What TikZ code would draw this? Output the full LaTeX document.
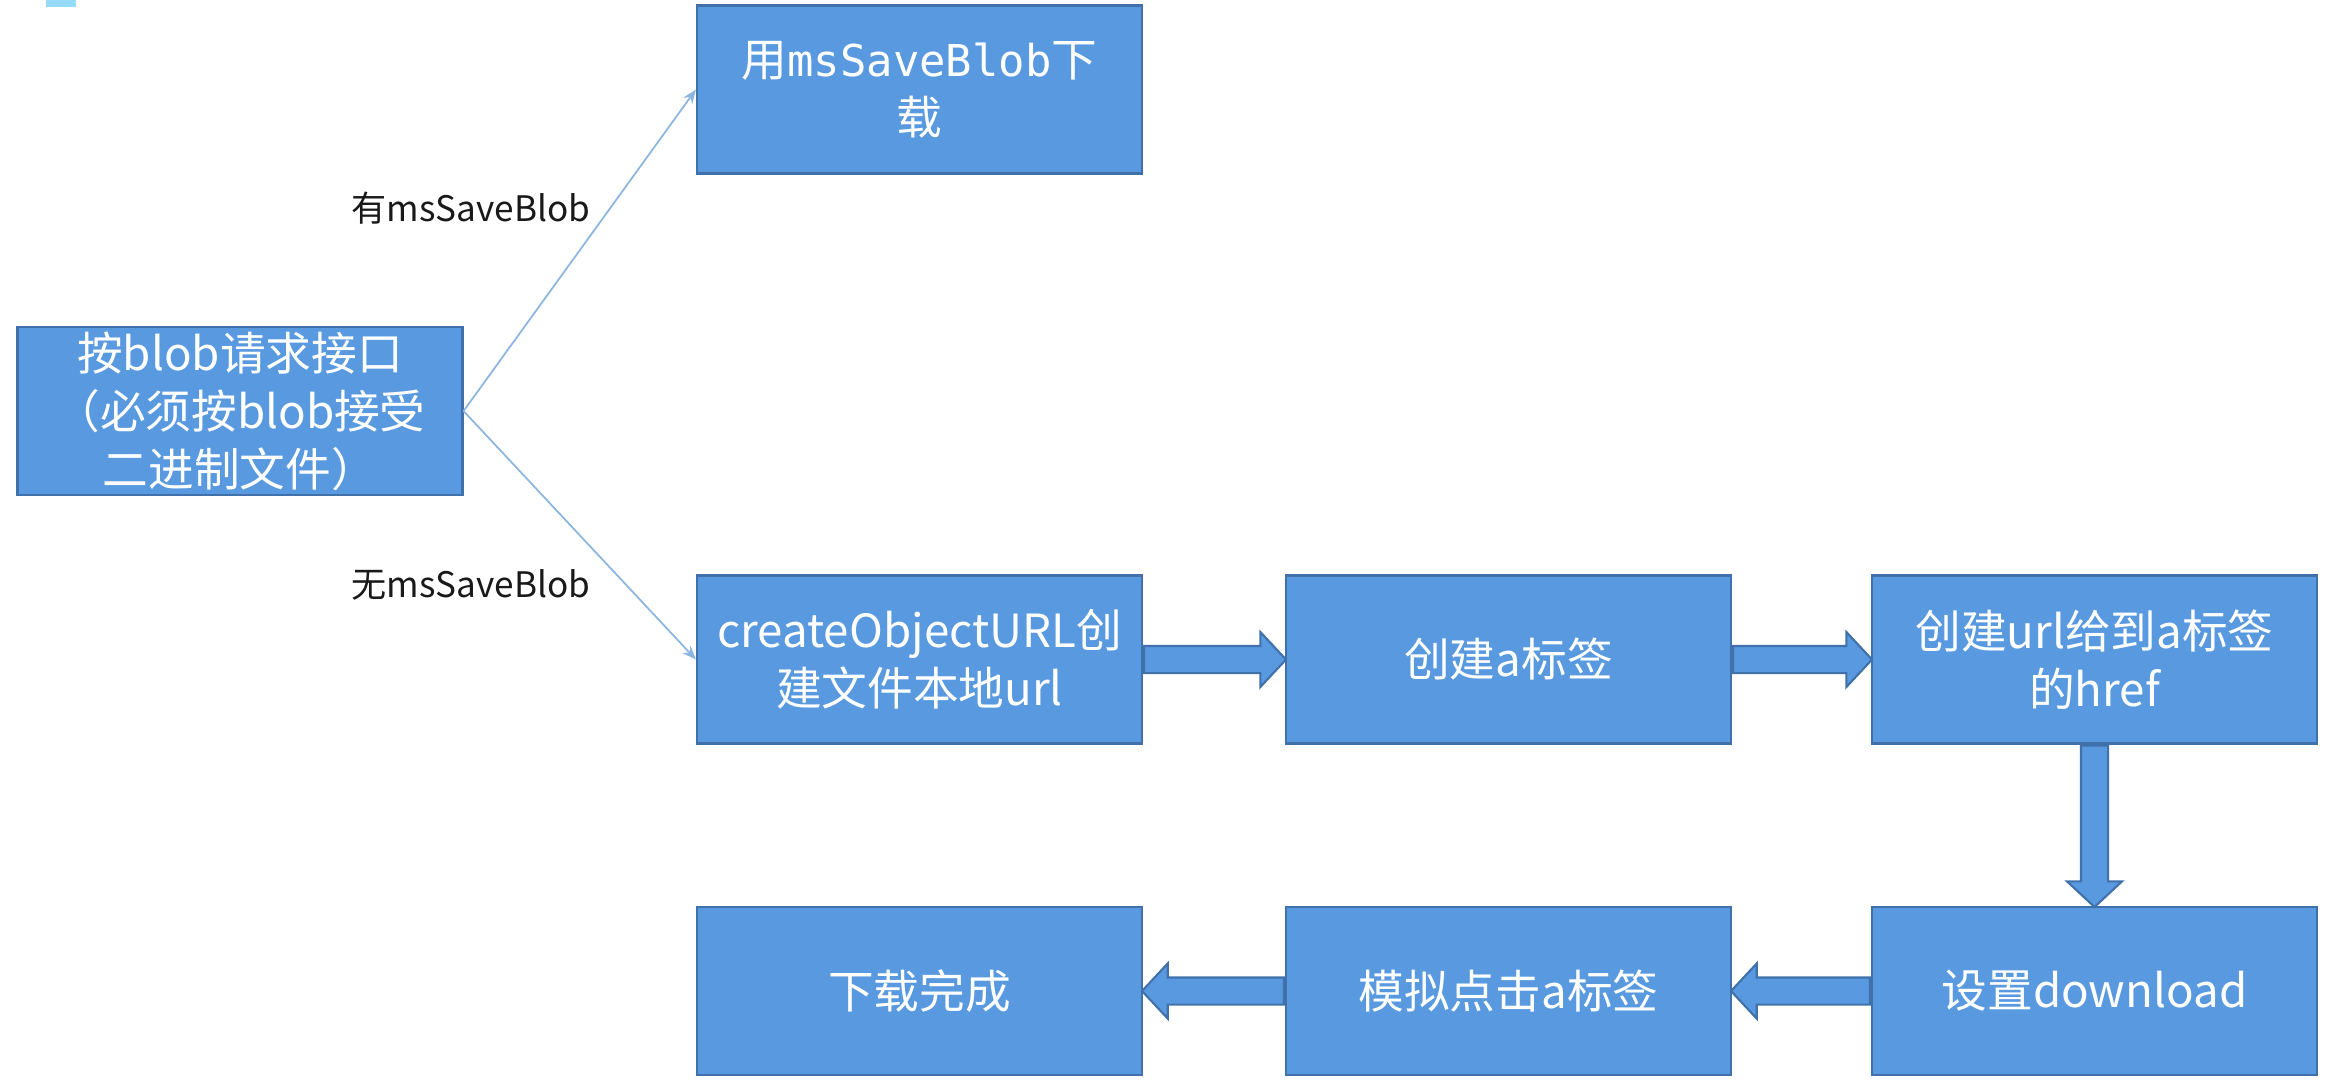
\documentclass[tikz,border=0pt]{standalone}
\usepackage{fontspec}
\setmainfont{Noto Sans CJK SC}
\newfontfamily\monofont[Scale=0.96]{DejaVu Sans Mono}
\usepackage{tikz}
\usetikzlibrary{arrows.meta,calc,shapes.arrows}

\definecolor{boxblue}{RGB}{88,153,223}
\definecolor{edgeblue}{RGB}{65,113,170}
\definecolor{lineblue}{RGB}{140,182,224}
\definecolor{tabblue}{RGB}{150,220,250}

\tikzset{
	stepbox/.style={rectangle, fill=boxblue, draw=edgeblue, line width=0.6pt, minimum width=4.45cm, minimum height=1.68cm, inner sep=0pt, align=center, text=white, font=\fontsize{13pt}{16.5pt}\selectfont},
	branchlabel/.style={inner sep=0pt, text=black!90, font=\fontsize{10pt}{12pt}\selectfont},
	branch/.style={draw=lineblue, line width=0.5pt, -{Stealth[length=1.4mm,width=1.1mm]}},
	flow/.style={to path={let \p1=($(\tikztotarget)-(\tikztostart)$) in node[single arrow, fill=boxblue, draw=edgeblue, line width=0.6pt, inner xsep=0pt, inner ysep=1.25mm, single arrow head extend=1.4mm, single arrow tip angle=94, minimum height={veclen(\x1,\y1)}, rotate={atan2(\y1,\x1)}, anchor=tail] at (\tikztostart) {}}},
}

\begin{document}
\begin{tikzpicture}
				\useasboundingbox (0,0) rectangle (23.44,-10.90);
				\fill [tabblue] (0.46,0) rectangle (0.76,-0.07);
				
				\node [stepbox] (request) at (2.40,-4.11) {按blob请求接口\\（必须按blob接受\\二进制文件）};
				\node [stepbox] (mssave) at (9.195,-0.895) {用{\monofont msSaveBlob}下\\载};
				
				\node [stepbox] (objurl) at (9.195,-6.595) {createObjectURL创\\建文件本地url};
				\node [stepbox] (createa) at (15.085,-6.595) {创建a标签};
				\node [stepbox] (href) at (20.945,-6.595) {创建url给到a标签\\的href};
				
				\node [stepbox] (download) at (20.945,-9.91) {设置download};
				\node [stepbox] (click) at (15.085,-9.91) {模拟点击a标签};
				\node [stepbox] (done) at (9.195,-9.91) {下载完成};
				
				\node [branchlabel] (has) at (4.71,-2.08) {有msSaveBlob};
				\node [branchlabel] (hasnot) at (4.71,-5.85) {无msSaveBlob};
				
				\draw [branch] (request.east) -- (mssave.west);
				\draw [branch] (request.east) -- (objurl.west);
				
				\path [flow] (objurl.east) to (createa.west);
				\path [flow] (createa.east) to (href.west);
				\path [flow] (href.south) to (download.north);
				\path [flow] (download.west) to (click.east);
				\path [flow] (click.west) to (done.east);
\end{tikzpicture}
\end{document}
